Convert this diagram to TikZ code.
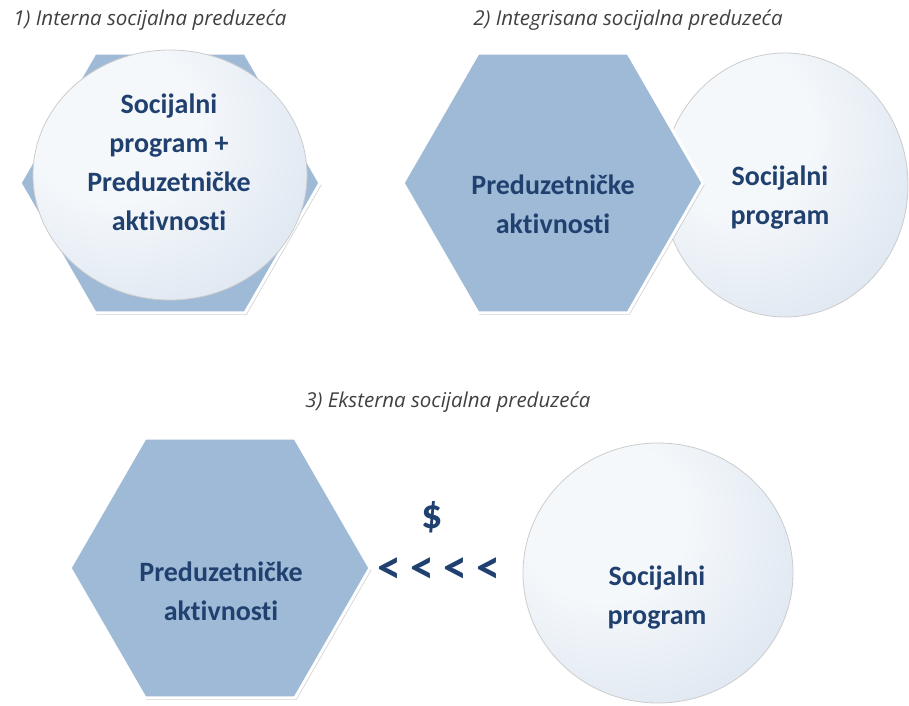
\documentclass[tikz,border=0pt]{standalone}
\usepackage{fontspec}
\setmainfont{Carlito}[Ligatures=NoCommon]
\newfontfamily\ttlfont{Open Sans}
\usetikzlibrary{shapes.geometric,shadows}
\definecolor{hexblue}{HTML}{9FBAD6}
\definecolor{txtblue}{HTML}{20406F}
\definecolor{bubin}{HTML}{F5F8FB}
\definecolor{bubmid}{HTML}{DCE5F0}
\definecolor{bubout}{HTML}{C6D5E6}
\pgfdeclareradialshading{bubshade}{\pgfpoint{-12bp}{12bp}}{color(0bp)=(bubin); color(15bp)=(bubin); color(40bp)=(bubmid); color(60bp)=(bubout); color(100bp)=(bubout)}

\begin{document}
\begin{tikzpicture}[x=1pt, y=-1pt, hexa/.style={regular polygon, regular polygon sides=6, minimum size=300pt, inner sep=0pt, fill=hexblue, draw=white, line width=3pt, drop shadow={shadow xshift=1.5pt, shadow yshift=-2pt, opacity=0.35}}, bubble/.style={ellipse, inner sep=0pt, shading=bubshade, draw=gray!40, line width=0.8pt}, lbl/.style={align=center, font=\bfseries\fontsize{28}{39}\selectfont, text=txtblue}, sym/.style={font=\bfseries\fontsize{42}{42}\selectfont, text=txtblue}, ttl/.style={font=\ttlfont\itshape\fontsize{20.5}{24}\selectfont, text=black!75}]
\useasboundingbox (0,0) rectangle (909,705);
% 1) interna
\node[ttl] (ttlA) at (150,20) {1) Interna socijalna preduzeća};
\node[hexa] (hexA) at (170,183) {};
\node[bubble, minimum width=274pt, minimum height=250pt] (bubA) at (170,175) {};
\node[lbl] (txtA) at (169,162) {Socijalni\\program +\\Preduzetničke\\aktivnosti};
% 2) integrisana
\node[ttl] (ttlB) at (628,20) {2) Integrisana socijalna preduzeća};
\node[bubble, minimum width=246pt, minimum height=264pt] (bubB) at (785,185) {};
\node[hexa] (hexB) at (553,183) {};
\node[lbl] (txtB) at (553,204) {Preduzetničke\\aktivnosti};
\node[lbl] (socB) at (780,198) {Socijalni\\program};
% 3) eksterna
\node[ttl] (ttlC) at (448,402) {3) Eksterna socijalna preduzeća};
\node[hexa] (hexC) at (220,568) {};
\node[bubble, minimum width=270pt, minimum height=260pt] (bubC) at (658,573) {};
\node[lbl] (txtC) at (221,591) {Preduzetničke\\aktivnosti};
\node[lbl] (socC) at (657,598) {Socijalni\\program};
\node[sym] (dollar) at (432,517) {\$};
\node[sym, font=\bfseries\fontsize{48}{48}\selectfont] (flow) at (439,571) {<\hspace{9pt}<\hspace{9pt}<\hspace{9pt}<};
\end{tikzpicture}
\end{document}
